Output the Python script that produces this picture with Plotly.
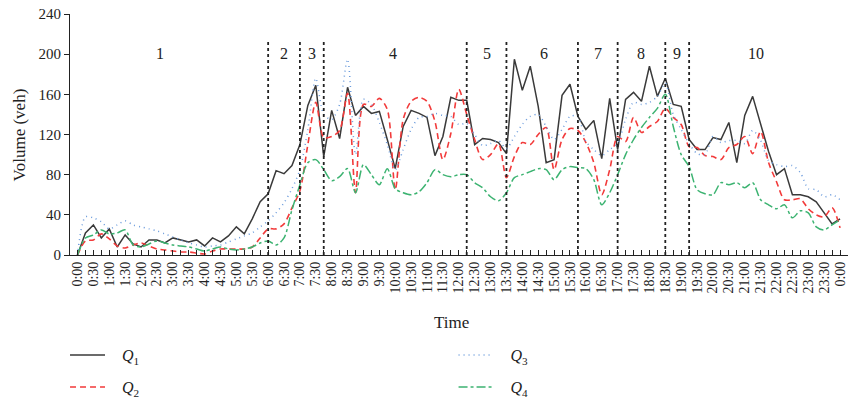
import plotly.graph_objects as go

# ---------------- data ----------------
q1 = [0, 22, 30, 17, 26, 8, 20, 11, 8, 15, 15, 12, 17, 15, 13, 15, 9, 17, 13, 19,
      28, 21, 36, 53, 61, 84, 81, 89, 110, 149, 169, 98, 144, 116, 167, 139, 148, 141, 143, 115,
      86, 128, 144, 141, 137, 99, 118, 157, 154, 154, 110, 116, 115, 112, 101, 195, 164, 188, 148, 92,
      95, 159, 170, 138, 125, 134, 96, 156, 105, 155, 162, 153, 188, 158, 176, 150, 148, 115, 105, 105,
      117, 115, 132, 92, 139, 158, 130, 103, 80, 86, 60, 60, 58, 53, 42, 31, 36]
q2 = [0, 14, 15, 21, 16, 9, 7, 10, 12, 9, 6, 5, 4, 3, 3, 2, 1, 4, 6, 6,
      6, 6, 8, 17, 26, 26, 31, 47, 64, 110, 152, 117, 118, 124, 161, 62, 150, 148, 156, 145,
      65, 135, 153, 157, 153, 133, 95, 121, 165, 140, 115, 95, 100, 111, 77, 98, 112, 110, 120, 127,
      85, 115, 126, 124, 112, 92, 60, 85, 118, 113, 137, 122, 128, 133, 146, 137, 130, 108, 107, 99,
      98, 95, 107, 110, 118, 101, 123, 92, 73, 55, 55, 56, 46, 40, 38, 47, 27]
q3 = [0, 38, 37, 33, 26, 30, 34, 30, 28, 26, 24, 21, 18, 15, 12, 10, 8, 9, 10, 13,
      16, 19, 22, 28, 34, 42, 52, 66, 85, 125, 176, 140, 135, 150, 195, 100, 155, 150, 132, 110,
      85, 105, 125, 137, 138, 141, 139, 138, 130, 131, 120, 109, 111, 114, 106, 118, 130, 138, 140, 128,
      115, 125, 138, 138, 113, 105, 99, 105, 111, 135, 152, 150, 152, 158, 171, 140, 125, 111, 101, 100,
      118, 112, 114, 114, 111, 124, 114, 94, 90, 88, 89, 82, 66, 65, 58, 60, 55]
q4 = [0, 17, 20, 25, 21, 22, 25, 10, 8, 11, 14, 12, 10, 9, 8, 6, 4, 6, 8, 6,
      5, 6, 8, 12, 14, 10, 17, 45, 70, 92, 95, 85, 74, 78, 86, 62, 90, 80, 70, 86,
      66, 62, 60, 63, 72, 85, 80, 78, 80, 80, 72, 67, 58, 54, 62, 77, 80, 83, 86, 85,
      75, 85, 88, 87, 86, 75, 50, 62, 80, 100, 115, 127, 137, 146, 160, 128, 100, 88, 65, 61,
      60, 72, 70, 72, 67, 72, 55, 50, 46, 50, 37, 44, 42, 28, 25, 30, 35]

time_labels = ["0:00", "0:30", "1:00", "1:30", "2:00", "2:30", "3:00", "3:30", "4:00", "4:30",
               "5:00", "5:30", "6:00", "6:30", "7:00", "7:30", "8:00", "8:30", "9:00", "9:30",
               "10:00", "10:30", "11:00", "11:30", "12:00", "12:30", "13:00", "13:30", "14:00", "14:30",
               "15:00", "15:30", "16:00", "16:30", "17:00", "17:30", "18:00", "18:30", "19:00", "19:30",
               "20:00", "20:30", "21:00", "21:30", "22:00", "22:30", "23:00", "23:30", "0:00"]

# period boundaries (hours) and period labels
boundaries = [6, 7, 7.75, 12.25, 13.5, 15.75, 17, 18.5, 19.25]
period_names = ["1", "2", "3", "4", "5", "6", "7", "8", "9", "10"]
period_label_pos = [2.6, 6.5, 7.38, 9.94, 12.9, 14.69, 16.38, 17.75, 18.88, 21.35]

step_h = 0.25
hours = [i * step_h for i in range(len(q1))]
tick_hours = [i * 0.5 for i in range(len(time_labels))]

FONT = "Liberation Serif"
PAD = "\u00a0\u00a0\u00a0"

fig = go.Figure()

series = [
    ("<i>Q</i><sub>1</sub>", q1, dict(color="#3a3a3a", width=1.5, dash="solid"), "linear", "legend"),
    ("<i>Q</i><sub>2</sub>", q2, dict(color="#f23a3a", width=1.6, dash="6px,4px"), "spline", "legend2"),
    ("<i>Q</i><sub>3</sub>", q3, dict(color="#6b9bdc", width=1.5, dash="1px,4px"), "spline", "legend3"),
    ("<i>Q</i><sub>4</sub>", q4, dict(color="#3cb371", width=1.5, dash="dashdot"), "spline", "legend4"),
]
for name, ys, line, shape, leg in series:
    ln = dict(line)
    ln["shape"] = shape
    if shape == "spline":
        ln["smoothing"] = 0.8
    fig.add_trace(go.Scatter(x=hours, y=ys, mode="lines", name=PAD + name, line=ln, legend=leg))

for b in boundaries:
    fig.add_shape(type="line", xref="x", yref="y", x0=b, x1=b, y0=0, y1=214,
                  line=dict(color="#222222", width=1.8, dash="dot"))

for name, pos in zip(period_names, period_label_pos):
    fig.add_annotation(x=pos, y=201, xref="x", yref="y", text=name, showarrow=False,
                       font=dict(family=FONT, size=16, color="#222222"))

# axis titles
fig.add_annotation(x=0.49, y=-0.282, xref="paper", yref="paper", text="Time", showarrow=False,
                   xanchor="center", yanchor="middle", font=dict(family=FONT, size=17, color="#222222"))
fig.add_annotation(x=-0.0644, y=0.5, xref="paper", yref="paper", text="Volume (veh)", showarrow=False,
                   textangle=-90, xanchor="center", yanchor="middle",
                   font=dict(family=FONT, size=17, color="#222222"))

leg_common = dict(orientation="v", xanchor="left", yanchor="middle", itemwidth=35,
                  font=dict(family=FONT, size=16), bgcolor="rgba(0,0,0,0)")
fig.update_layout(
    width=848, height=400,
    margin=dict(l=70, r=0, t=14, b=145, autoexpand=False),
    plot_bgcolor="white", paper_bgcolor="white",
    font=dict(family=FONT, size=15, color="#222222"),
    showlegend=True,
    legend=dict(leg_common, x=-0.0064, y=-0.415),
    legend2=dict(leg_common, x=-0.0064, y=-0.548),
    legend3=dict(leg_common, x=0.493, y=-0.415),
    legend4=dict(leg_common, x=0.493, y=-0.548),
)

fig.update_xaxes(
    range=[-0.236, 24.25], automargin=False,
    tickmode="array", tickvals=tick_hours, ticktext=time_labels,
    tickangle=-90, ticks="inside", ticklen=5, tickcolor="#222222", tickwidth=1,
    tickfont=dict(family=FONT, size=14), ticklabeloverflow="allow",
    minor=dict(tickvals=hours, ticks="inside", ticklen=5, tickcolor="#222222", tickwidth=1, showgrid=False),
    showline=True, linecolor="#222222", linewidth=1.2,
    showgrid=False, zeroline=False,
)
fig.update_yaxes(
    range=[0, 240], tickmode="linear", tick0=0, dtick=40, automargin=False,
    ticks="outside", ticklen=5, tickcolor="#222222",
    tickfont=dict(family=FONT, size=15),
    showline=True, linecolor="#222222", linewidth=1.2,
    showgrid=False, zeroline=False,
)

fig.write_html("out.html")
